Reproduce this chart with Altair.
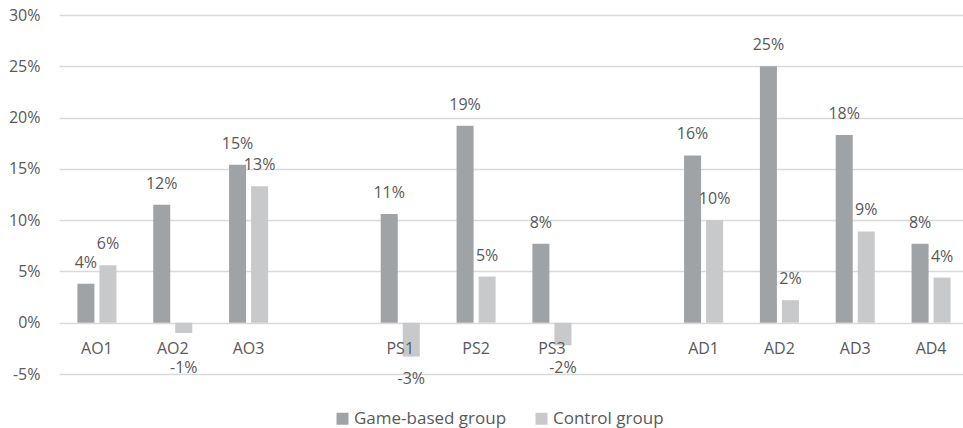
import altair as alt
import pandas as pd

categories = ["AO1", "AO2", "AO3", "PS1", "PS2", "PS3", "AD1", "AD2", "AD3", "AD4"]
game = [3.8, 11.5, 15.4, 10.6, 19.2, 7.7, 16.3, 25.0, 18.3, 7.7]
control = [5.6, -1.0, 13.3, -3.3, 4.5, -2.2, 10.0, 2.2, 8.9, 4.4]
groups = ["Game-based group", "Control group"]
x_domain = ["AO1", "AO2", "AO3", " ", "PS1", "PS2", "PS3", "  ", "AD1", "AD2", "AD3", "AD4"]
y_ticks = [-5, 0, 5, 10, 15, 20, 25, 30]

rows = []
for c, g, k in zip(categories, game, control):
    rows.append({"cat": c, "group": groups[0], "v": g})
    rows.append({"cat": c, "group": groups[1], "v": k})
df = pd.DataFrame(rows)

FONT = "Open Sans"
TXT = "#595959"

x_enc = alt.X("cat:N", sort=x_domain,
              scale=alt.Scale(domain=x_domain, paddingInner=0.485, paddingOuter=0.2425, range=[0, 910]),
              axis=alt.Axis(title=None, domain=False, ticks=False, labelAngle=0, offset=-51,
                            labelPadding=17, labelFontSize=16, labelColor=TXT, labelFont=FONT,
                            grid=False, zindex=2))
xo_enc = alt.XOffset("group:N", sort=groups,
                     scale=alt.Scale(domain=groups, paddingInner=0.227, paddingOuter=0))
color_enc = alt.Color("group:N", sort=groups,
                      scale=alt.Scale(domain=groups, range=["#a0a3a6", "#c8c9cb"]),
                      legend=alt.Legend(title=None, orient="none", direction="horizontal",
                                        legendX=275, legendY=395, symbolType="square", symbolSize=144,
                                        symbolStrokeWidth=0, labelFontSize=17, labelColor=TXT,
                                        labelFont=FONT, columnPadding=26, labelOffset=3))

base = alt.Chart(df)

bars = base.mark_bar().encode(
    x=x_enc,
    xOffset=xo_enc,
    y=alt.Y("v:Q", scale=alt.Scale(domain=[-5, 30], nice=False),
            axis=alt.Axis(title=None, values=y_ticks, labelExpr="datum.value + '%'",
                          domain=False, ticks=False, labelPadding=19, labelFontSize=16,
                          labelColor=TXT, labelFont=FONT, gridColor="#d9d9d9", gridWidth=1.5)),
    color=color_enc,
)

labels = base.transform_calculate(
    lab="round(datum.v) + '%'",
    pos="datum.v >= 0 ? datum.v + 2.05 : min(datum.v - 2.2, -4.45)",
).mark_text(fontSize=16, font=FONT, color=TXT, baseline="middle", align="center").encode(
    x=alt.X("cat:N", sort=x_domain),
    xOffset=alt.XOffset("group:N", sort=groups),
    y=alt.Y("pos:Q"),
    text="lab:N",
)

chart = alt.layer(bars, labels).properties(
    width=903, height=359,
    autosize=alt.AutoSizeParams(type="none"),
    padding={"left": 59, "top": 15, "right": 1, "bottom": 54},
).configure(background="white").configure_view(stroke=None, strokeWidth=0)

chart.save("out.html", embed_options={"renderer": "svg", "actions": False})
